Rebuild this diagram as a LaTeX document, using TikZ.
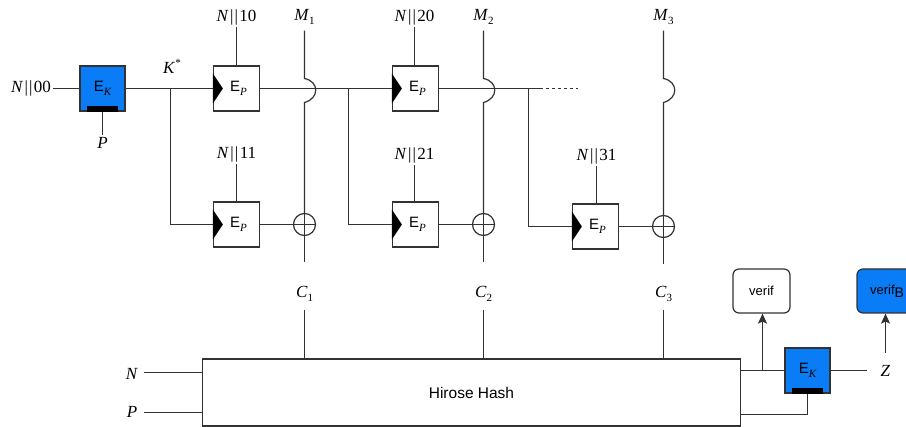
\documentclass[tikz,border=0pt]{standalone}
\usepackage{fontspec}
\setmainfont{Liberation Serif}
\setsansfont{Liberation Sans}
\usetikzlibrary{arrows.meta,calc}
\definecolor{lc}{RGB}{50,50,50}
\definecolor{bluefill}{RGB}{10,124,245}
\newcommand{\sbs}[1]{\raisebox{-0.45ex}{\fontsize{11}{11}\selectfont #1}}
\newcommand{\sps}[1]{\raisebox{0.9ex}{\fontsize{11}{11}\selectfont #1}}
\newcommand{\cat}[1]{\textit{N}\kern1.5pt|\kern1pt|\kern1.5pt#1}
\newcommand{\itsub}[1]{\sbs{\rmfamily\itshape #1}}
\begin{document}
\begin{tikzpicture}[x=1pt,y=-1pt,
  wire/.style={draw=lc,line width=1.2pt},
  lbl/.style={font=\fontsize{17}{20}\selectfont,inner sep=2pt},
  epbox/.style={draw=lc,line width=1.2pt,fill=white,minimum width=46,minimum height=45,inner sep=0pt,font=\sffamily\fontsize{15}{18}\selectfont},
  ekbox/.style={draw=lc,line width=1.2pt,fill=bluefill,minimum width=45,minimum height=45,inner sep=0pt,font=\sffamily\fontsize{15}{18}\selectfont},
  xorc/.style={circle,draw=lc,line width=1.2pt,minimum size=22,inner sep=0pt},
  outbox/.style={draw=lc,line width=1.2pt,rounded corners=6pt,minimum width=57,minimum height=44,inner sep=0pt,font=\sffamily\fontsize{13}{15}\selectfont},
  arr/.style={wire,-{Stealth[length=10pt,width=9pt,inset=2pt]}}
]
\useasboundingbox (0,0) rectangle (906,427);
% ---- key derivation
\node[lbl] (n00) at (31,88.5) {\cat{00}};
\node[ekbox] (ek1) at (102.5,88.5) {E\itsub{K}};
\fill[black] ($(ek1.south west)+(8,0)$) rectangle ($(ek1.south east)+(-8,-6)$);
\node[lbl] (p1) at (102.5,143) {\textit{P}};
\node[lbl] (ks) at (172,66) {\textit{K}\sps{*}};
\draw[wire] (n00.east) -- (ek1.west);
\draw[wire] (ek1.south) -- (p1.north);
% ---- E_P boxes
\node[epbox] (ep1) at (236.5,88.5) {\hspace{4pt}E\itsub{P}};
\node[epbox] (ep2) at (236.5,224.5) {\hspace{4pt}E\itsub{P}};
\node[epbox] (ep3) at (415.5,88.5) {\hspace{4pt}E\itsub{P}};
\node[epbox] (ep4) at (415.5,224.5) {\hspace{4pt}E\itsub{P}};
\node[epbox] (ep5) at (595.5,226.5) {\hspace{4pt}E\itsub{P}};
\foreach \b in {ep1,ep2,ep3,ep4,ep5}{
  \fill[black] ($(\b.west)+(0,-15)$) -- ($(\b.west)+(10,0)$) -- ($(\b.west)+(0,15)$) -- cycle;
}
\node[lbl] (n10) at (236.5,17) {\cat{10}};
\node[lbl] (n11) at (236.5,154) {\cat{11}};
\node[lbl] (n20) at (414.5,17) {\cat{20}};
\node[lbl] (n21) at (414.5,155) {\cat{21}};
\node[lbl] (n31) at (596.5,156) {\cat{31}};
\draw[wire] (n10.south) -- (ep1.north);
\draw[wire] (n11.south) -- (ep2.north);
\draw[wire] (n20.south) -- (n20.south |- ep3.north);
\draw[wire] (n21.south) -- (n21.south |- ep4.north);
\draw[wire] (n31.south) -- (n31.south |- ep5.north);
% ---- branch points
\coordinate (b1) at (170.5,88.5);
\coordinate (b2) at (348.5,88.5);
\coordinate (b3) at (528.5,88.5);
\coordinate (s3) at (540,88.5);
\coordinate (d3) at (578,88.5);
\draw[wire] (ek1.east) -- (ep1.west);
\draw[wire] (b1) |- (ep2.west);
\draw[wire] (ep1.east) -- (b2) -- (ep3.west);
\draw[wire] (b2) |- (ep4.west);
\draw[wire] (ep3.east) -- (s3);
\draw[wire,dash pattern=on 3pt off 3pt] (s3) -- (d3);
\draw[wire] (b3) |- (ep5.west);
% ---- XORs
\node[xorc] (x1) at (304.5,224.5) {};
\node[xorc] (x2) at (483.5,224.5) {};
\node[xorc] (x3) at (663.5,226.5) {};
\foreach \x in {x1,x2,x3}{
  \draw[wire] (\x.north) -- (\x.south);
  \draw[wire] (\x.west) -- (\x.east);
}
\draw[wire] (ep2.east) -- (x1.west);
\draw[wire] (ep4.east) -- (x2.west);
\draw[wire] (ep5.east) -- (x3.west);
% ---- message lines with hops
\node[lbl] (m1) at (304.5,17) {\textit{M}\sbs{1}};
\node[lbl] (m2) at (483.5,17) {\textit{M}\sbs{2}};
\node[lbl] (m3) at (663.5,17) {\textit{M}\sbs{3}};
\foreach \m/\x in {m1/x1,m2/x2,m3/x3}{
  \draw[wire] ($(\m.south)+(0,4)$) -- ($(\m.south |- b1)+(0,-10)$)
    .. controls ($(\m.south |- b1)+(15,-7)$) and ($(\m.south |- b1)+(15,10)$) .. ($(\m.south |- b1)+(0,14)$)
    -- (\x.north);
  \draw[wire] (\x.south) -- ($(\x.south)+(0,26)$);
}
% ---- Hirose hash
\node[draw=lc,line width=1.2pt,minimum width=538,minimum height=67,inner sep=0pt,font=\sffamily\fontsize{15.5}{18}\selectfont] (hh) at (471.5,392.5) {Hirose Hash};
\node[lbl] (c1) at (304.5,294) {\textit{C}\sbs{1}};
\node[lbl] (c2) at (483.5,294) {\textit{C}\sbs{2}};
\node[lbl] (c3) at (663.5,294) {\textit{C}\sbs{3}};
\foreach \c in {c1,c2,c3}{
  \draw[wire] ($(\c.south)+(0,6)$) -- (\c.south |- hh.north);
}
\node[lbl] (nn) at (132,374) {\textit{N}};
\node[lbl] (pp) at (132,412) {\textit{P}};
\draw[wire] ($(nn.east)+(4,-1.5)$) -- (hh.west |- 0,372.5);
\draw[wire] ($(pp.east)+(5,0.5)$) -- (hh.west |- 0,412.5);
% ---- output
\node[ekbox] (ek2) at (807.5,370.5) {E\itsub{K}};
\fill[black] ($(ek2.south west)+(8,0)$) rectangle ($(ek2.south east)+(-8,-6)$);
\node[outbox] (vf) at (761.5,291) {verif};
\node[outbox,fill=bluefill,minimum width=60] (vfb) at (887,291) {\raisebox{-0.3ex}{verif}\raisebox{-0.7ex}{\fontsize{14}{15}\selectfont B}};
\node[lbl] (zz) at (885.5,370.5) {\textit{Z}};
\coordinate (hr) at (740.5,370.5);
\coordinate (vb) at (762.5,370.5);
\coordinate (kb) at (807.5,414.5);
\draw[wire] (hr) -- (ek2.west);
\draw[arr] (vb) -- (vb |- vf.south);
\draw[wire] (ek2.south) -- (kb) -- (hh.east |- kb);
\draw[wire,shorten >=12pt] (ek2.east) -- (zz.west);
\draw[arr,shorten <=10pt] (zz.north) -- (zz.north |- vfb.south);
\end{tikzpicture}
\end{document}
